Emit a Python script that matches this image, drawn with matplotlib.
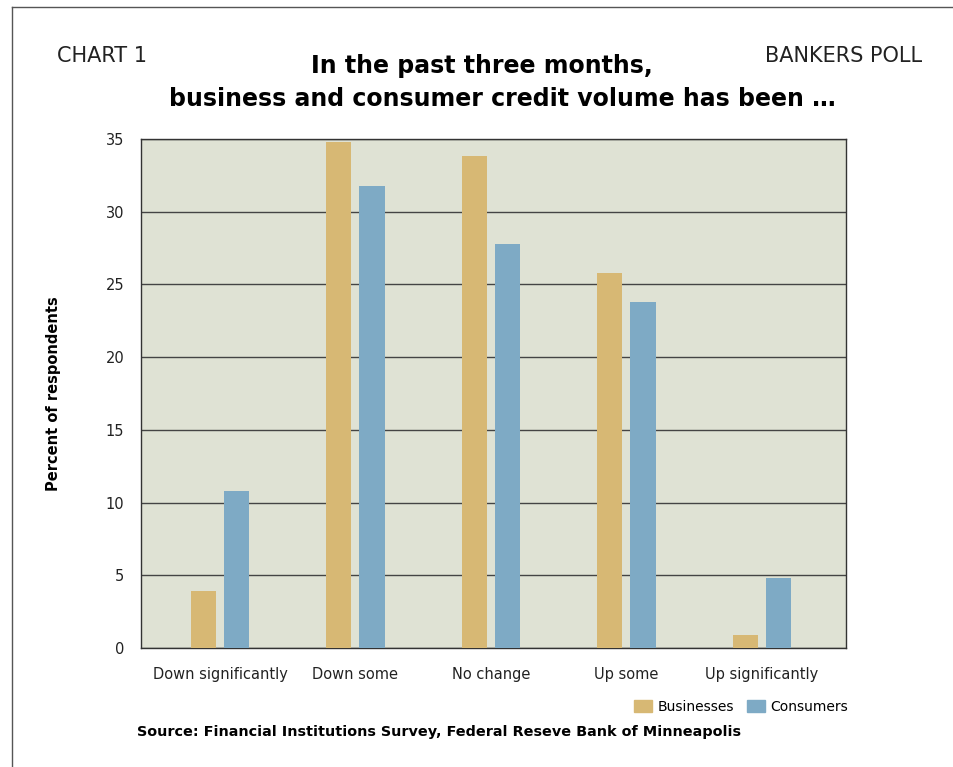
import matplotlib.pyplot as plt
import numpy as np
from matplotlib.lines import Line2D
from matplotlib.patches import Patch

categories = ['Down significantly', 'Down some', 'No change', 'Up some', 'Up significantly']
businesses = [3.9, 34.8, 33.8, 25.8, 0.9]
consumers = [10.8, 31.8, 27.8, 23.8, 4.8]
yticks = [0, 5, 10, 15, 20, 25, 30, 35]

col_b = '#d7b874'
col_c = '#7eaac5'

fig = plt.figure(figsize=(9.54, 7.67), dpi=100)
fig.patch.set_facecolor('white')

# outer frame (left and top only, as in the reference)
fig.add_artist(Line2D([12 / 954, 12 / 954], [0, 1 - 7 / 767], transform=fig.transFigure, color='#555555', lw=1))
fig.add_artist(Line2D([12 / 954, 1], [1 - 7 / 767, 1 - 7 / 767], transform=fig.transFigure, color='#555555', lw=1))

ax = fig.add_axes([141 / 954, 1 - 648 / 767, 705 / 954, 509 / 767])
ax.set_facecolor('#dfe2d4')

x = np.arange(len(categories))
w = 0.185
off = 0.122
ax.bar(x - off, businesses, w, color=col_b, zorder=3)
ax.bar(x + off, consumers, w, color=col_c, zorder=3)

ax.set_ylim(0, 35)
ax.set_xlim(-0.583, 4.62)
ax.set_yticks(yticks)
ax.yaxis.grid(True, color='#444444', lw=1, zorder=1)
ax.tick_params(axis='both', length=0, labelsize=10.5, colors='#222222')
ax.tick_params(axis='y', pad=12)
ax.tick_params(axis='x', pad=14)
ax.set_xticks(x)
ax.set_xticklabels(categories)
for s in ax.spines.values():
    s.set_color('#333333')
    s.set_linewidth(1)

ax.set_ylabel('Percent of respondents', fontsize=10.5, fontweight='bold', labelpad=32)

fig.text(57 / 954, 1 - 56 / 767, 'CHART 1', fontsize=15, color='#222222', va='center', ha='left')
fig.text(922 / 954, 1 - 56 / 767, 'BANKERS POLL', fontsize=15, color='#222222', va='center', ha='right')
fig.text(482 / 954, 1 - 66 / 767, 'In the past three months,',
         fontsize=17, fontweight='bold', ha='center', va='center')
fig.text(502 / 954, 1 - 99 / 767, 'business and consumer credit volume has been \u2026',
         fontsize=17, fontweight='bold', ha='center', va='center')

fig.legend(handles=[Patch(color=col_b, label='Businesses'), Patch(color=col_c, label='Consumers')],
           loc='center right', bbox_to_anchor=(848 / 954, 1 - 707 / 767), ncol=2, frameon=False,
           fontsize=10, handlelength=1.3, handleheight=1.0, handletextpad=0.4, columnspacing=0.9,
           borderaxespad=0, borderpad=0)

fig.text(137 / 954, 1 - 732 / 767, 'Source: Financial Institutions Survey, Federal Reseve Bank of Minneapolis',
         fontsize=10.4, fontweight='bold', ha='left', va='center')

fig.savefig('out.png', dpi=100)
